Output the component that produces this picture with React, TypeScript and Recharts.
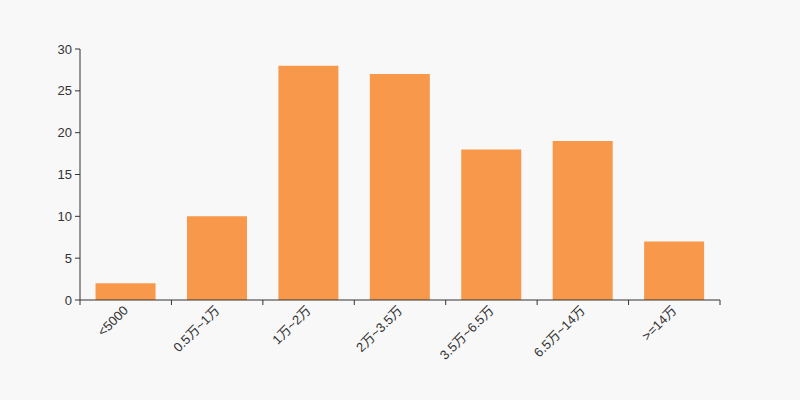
import React from "react";
import { Bar, BarChart, XAxis, YAxis } from "recharts";

const categories = ["<5000", "0.5万~1万", "1万~2万", "2万~3.5万", "3.5万~6.5万", "6.5万~14万", ">=14万"];
const counts = [2, 10, 28, 27, 18, 19, 7];
const yTicks = [0, 5, 10, 15, 20, 25, 30];

const data = categories.map((name, i) => ({ name, value: counts[i] }));

const FONT = "'Liberation Sans', 'Noto Sans CJK SC', sans-serif";
const AXIS = "#333";
const PLOT_LEFT = 80;
const PLOT_RIGHT = 720;
const BAND = (PLOT_RIGHT - PLOT_LEFT) / categories.length;

const XTick = (props: any) => {
  const { x, y, payload, index } = props;
  const isLast = index === categories.length - 1;
  return (
    <g>
      <line x1={x - BAND / 2} y1={y - 8} x2={x - BAND / 2} y2={y - 3} stroke={AXIS} />
      {isLast && <line x1={x + BAND / 2} y1={y - 8} x2={x + BAND / 2} y2={y - 3} stroke={AXIS} />}
      <text
        x={x}
        y={y}
        transform={`rotate(-45, ${x}, ${y})`}
        textAnchor="end"
        dy="0.35em"
        fontSize={13}
        fontFamily={FONT}
        fill={AXIS}
      >
        {payload.value}
      </text>
    </g>
  );
};

export default function App() {
  return (
    <div style={{ position: "absolute", left: 0, top: 0, width: 800, height: 400, background: "#f8f8f8" }}>
      <BarChart
        width={800}
        height={400}
        data={data}
        margin={{ top: 49, right: 80, left: 0, bottom: 0 }}
        barCategoryGap="17%"
      >
        <XAxis
          dataKey="name"
          height={100}
          interval={0}
          tickLine={false}
          tickSize={0}
          tickMargin={8}
          axisLine={{ stroke: AXIS }}
          tick={<XTick />}
        />
        <YAxis
          width={80}
          domain={[0, 30]}
          ticks={yTicks}
          tickSize={5}
          tickMargin={3}
          axisLine={{ stroke: AXIS }}
          tickLine={{ stroke: AXIS }}
          tick={{ fontSize: 13, fontFamily: FONT, fill: AXIS }}
        />
        <Bar dataKey="value" fill="#f7984a" isAnimationActive={false} />
      </BarChart>
    </div>
  );
}
